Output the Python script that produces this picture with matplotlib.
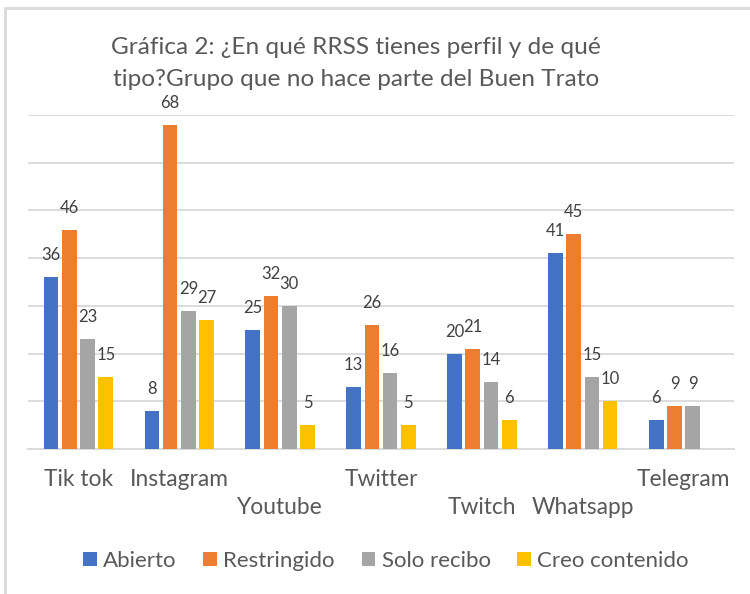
import numpy as np
import matplotlib.pyplot as plt
from matplotlib.patches import Rectangle, Patch
from matplotlib.transforms import blended_transform_factory

plt.rcParams['font.family'] = ['Lato', 'DejaVu Sans']

# -----------------------------
# data
# -----------------------------
categories = ["Tik tok", "Instagram", "Youtube", "Twitter", "Twitch", "Whatsapp", "Telegram"]
abierto = [36, 8, 25, 13, 20, 41, 6]
restringido = [46, 68, 32, 26, 21, 45, 9]
solo_recibo = [23, 29, 30, 16, 14, 15, 9]
creo_contenido = [15, 27, 5, 5, 6, 10, None]
series_names = ["Abierto", "Restringido", "Solo recibo", "Creo contenido"]
colors = ["#4472C4", "#ED7D31", "#A5A5A5", "#FFC000"]
# fila de la etiqueta del eje x (0 = arriba, 1 = abajo), como en Excel
label_row = [0, 0, 1, 0, 1, 1, 0]

W, H = 750, 594
fig = plt.figure(figsize=(W / 100, H / 100), dpi=100)

# borde del gráfico (solo se ve arriba e izquierda)
fig.patches.append(Rectangle((5 / W, -0.1), 1.2, 1 - 8 / H + 0.1, transform=fig.transFigure,
                             fill=False, edgecolor="#D9D9D9", linewidth=2))

ax = fig.add_axes([28 / W, 1 - 449 / H, 706 / W, (449 - 115) / H])
x = np.arange(len(categories))
slot = 0.181
bw = 0.145
all_series = [abierto, restringido, solo_recibo, creo_contenido]
for i, vals in enumerate(all_series):
    xs = [xx + (i - 1.5) * slot for xx, v in zip(x, vals) if v is not None]
    vs = [v for v in vals if v is not None]
    ax.bar(xs, vs, width=bw, color=colors[i], zorder=3)
    for xx, v in zip(xs, vs):
        ax.annotate(str(v), (xx, v), xytext=(0, 15.8), textcoords="offset points",
                    ha="center", va="center", fontsize=12, color="#404040")

ax.set_xlim(-0.5, len(categories) - 0.5)
ax.set_ylim(0, 70)
ax.set_yticks(np.arange(0, 71, 10))
ax.set_yticklabels([])
ax.tick_params(left=False, bottom=False, labelbottom=False)
ax.grid(axis="y", color="#D9D9D9", linewidth=1.3, zorder=0)
for s in ["top", "right", "left"]:
    ax.spines[s].set_visible(False)
ax.spines["bottom"].set_color("#D9D9D9")
ax.spines["bottom"].set_linewidth(1.3)

# etiquetas del eje x escalonadas
trans = blended_transform_factory(ax.transData, fig.transFigure)
for xx, name, row in zip(x, categories, label_row):
    ypix = 480 if row == 0 else 508
    ax.text(xx, 1 - ypix / H, name, transform=trans,
            ha="center", va="center", fontsize=16.4, color="#595959")

fig.text(356 / W, 1 - 48 / H, "Gráfica 2: ¿En qué RRSS tienes perfil y de qué",
         ha="center", va="center", fontsize=17.6, color="#595959")
fig.text(356 / W, 1 - 80 / H, "tipo?Grupo que no hace parte del Buen Trato",
         ha="center", va="center", fontsize=17.6, color="#595959")

handles = [Patch(facecolor=c) for c in colors]
fig.legend(handles, series_names, loc="center", bbox_to_anchor=(386 / W, 1 - 561 / H), ncol=4,
           frameon=False, fontsize=16, labelcolor="#595959", handlelength=0.6, handleheight=0.6,
           handletextpad=0.3, columnspacing=1.2)

fig.savefig("out.png", dpi=100)
